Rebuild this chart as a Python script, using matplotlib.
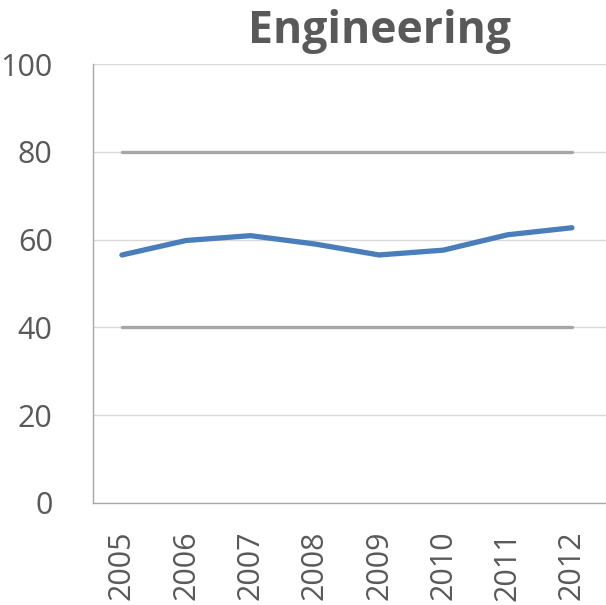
import numpy as np
import matplotlib.pyplot as plt

years = ['2005', '2006', '2007', '2008', '2009', '2010', '2011', '2012']
engineering = [56.5, 59.8, 60.9, 59.0, 56.5, 57.6, 61.1, 62.7]
upper = [80, 80, 80, 80, 80, 80, 80, 80]
lower = [40, 40, 40, 40, 40, 40, 40, 40]

plt.rcParams['font.family'] = ['Open Sans', 'DejaVu Sans']
text_color = '#595959'

fig = plt.figure(figsize=(6.06, 6.05), dpi=100)
ax = fig.add_axes([93 / 606, 1 - 503 / 605, 513 / 606, 439 / 605])

x = np.arange(len(years))
ax.plot(x, upper, color='#a6a6a6', lw=2.4, solid_capstyle='round', zorder=3)
ax.plot(x, lower, color='#a6a6a6', lw=2.4, solid_capstyle='round', zorder=3)
ax.plot(x, engineering, color='#4a7ebb', lw=3.8, solid_capstyle='round', zorder=4)

ax.set_xlim(-0.45, 7.53)
ax.set_ylim(0, 100)
ax.set_yticks([0, 20, 40, 60, 80, 100])
ax.set_xticks(x)
ax.set_xticklabels(years, rotation=90)
ax.grid(axis='y', color='#d9d9d9', lw=1)
ax.set_axisbelow(True)

for s in ['top', 'right']:
    ax.spines[s].set_visible(False)
for s in ['left', 'bottom']:
    ax.spines[s].set_color('#a6a6a6')
    ax.spines[s].set_linewidth(1)

ax.tick_params(axis='y', length=0, pad=29, labelsize=22, labelcolor=text_color)
ax.tick_params(axis='x', length=0, pad=20, labelsize=22, labelcolor=text_color)

fig.text(379 / 606, 1 - 31 / 605, 'Engineering', ha='center', va='center',
         fontsize=32, fontweight='bold', color=text_color)

fig.savefig('out.png', dpi=100)
